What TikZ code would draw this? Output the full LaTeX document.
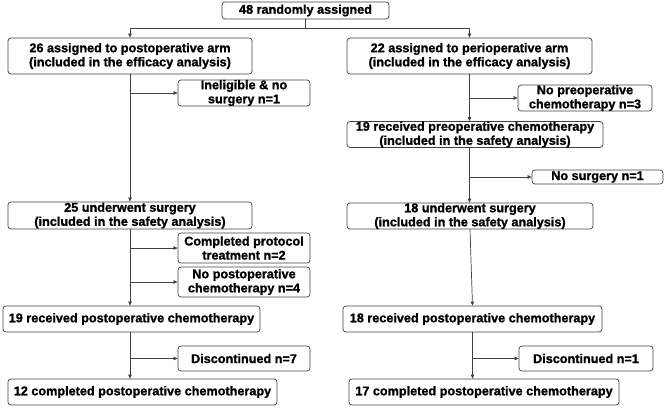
\documentclass[tikz,border=0pt]{standalone}
\usepackage{fontspec}
\setmainfont{Liberation Sans}[BoldFeatures={FakeBold=1.2}]
\usetikzlibrary{arrows.meta}

\begin{document}
\begin{tikzpicture}[x=0.03cm, y=-0.03cm]
      \tikzstyle{every node}+=[inner sep=0pt]
      \tikzstyle{box}=[draw=black!75, line width=0.6pt, rounded corners=2.5pt, align=center, font=\fontsize{10.8}{12}\selectfont\bfseries]
      \tikzstyle{side}=[box, minimum width=3.96cm]
      \tikzstyle{link}=[draw=black!75, line width=0.6pt, -{Triangle[length=3.5pt,width=3pt]}]
      \useasboundingbox (0,0) rectangle (666,407);
      % randomisation
      \node [box, minimum width=5.01cm, minimum height=0.51cm] (rand) at (305.5,10.5) {48 randomly assigned};
      % postoperative arm
      \node [box, minimum width=7.32cm, minimum height=1.08cm] (postarm) at (130,56) {26 assigned to postoperative arm\\(included in the efficacy analysis)};
      \node [side, minimum height=0.78cm] (inelig) at (244,93) {Ineligible \& no\\surgery n=1};
      \node [box, minimum width=7.32cm, minimum height=0.81cm] (surgL) at (130,215.5) {25 underwent surgery\\(included in the safety analysis)};
      \node [side, minimum height=0.9cm] (protocol) at (244,248) {Completed protocol\\treatment n=2};
      \node [side, minimum height=0.9cm] (nopost) at (244,282) {No postoperative\\chemotherapy n=4};
      \node [box, minimum width=7.71cm, minimum height=0.78cm] (chemoL) at (131.5,319) {19 received postoperative chemotherapy};
      \node [side, minimum height=0.75cm] (discL) at (244,358.5) {Discontinued n=7};
      \node [box, minimum width=8.07cm, minimum height=0.78cm] (doneL) at (142.5,392) {12 completed postoperative chemotherapy};
      % perioperative arm
      \node [box, minimum width=7.35cm, minimum height=1.08cm] (periarm) at (469.5,56) {22 assigned to perioperative arm\\(included in the efficacy analysis)};
      \node [box, minimum width=4.02cm, minimum height=0.72cm] (nopre) at (585,98) {No preoperative\\chemotherapy n=3};
      \node [box, minimum width=7.68cm, minimum height=0.75cm] (prechemo) at (475,134.5) {19 received preoperative chemotherapy\\(included in the safety analysis)};
      \node [box, minimum width=3.93cm, minimum height=0.42cm] (nosurg) at (597.5,177) {No surgery n=1};
      \node [box, minimum width=7.38cm, minimum height=0.78cm] (surgR) at (470,216) {18 underwent surgery\\(included in the safety analysis)};
      \node [box, minimum width=7.77cm, minimum height=0.78cm] (chemoR) at (472.5,319) {18 received postoperative chemotherapy};
      \node [box, minimum width=4.02cm, minimum height=0.75cm] (discR) at (586,358.5) {Discontinued n=1};
      \node [box, minimum width=8.1cm, minimum height=0.78cm] (doneR) at (484,392) {17 completed postoperative chemotherapy};
      % split
      \draw [link] (rand.south) -- ++(0,9) -| (postarm.north);
      \draw [link] (rand.south) -- ++(0,9) -| (periarm.north);
      % left column
      \draw [link] (postarm.south) -- (surgL.north);
      \draw [link] (postarm.south |- inelig.west) -- (inelig.west);
      \draw [link] (surgL.south) -- (chemoL.north -| surgL.south);
      \draw [link] (surgL.south |- protocol.west) -- (protocol.west);
      \draw [link] (surgL.south |- nopost.west) -- (nopost.west);
      \draw [link] (chemoL.south -| surgL.south) -- (doneL.north -| surgL.south);
      \draw [link] (surgL.south |- discL.west) -- (discL.west);
      % right column
      \draw [link] (periarm.south) -- (periarm.south |- prechemo.north);
      \draw [link] (periarm.south |- nopre.west) -- (nopre.west);
      \draw [link] (periarm.south |- prechemo.south) -- (periarm.south |- surgR.north);
      \draw [link] (periarm.south |- nosurg.west) -- (nosurg.west);
      \draw [link] (surgR.south) -- (chemoR.north -| chemoR.south);
      \draw [link] (chemoR.south) -- (chemoR.south |- doneR.north);
      \draw [link] (chemoR.south |- discR.west) -- (discR.west);
\end{tikzpicture}
\end{document}
